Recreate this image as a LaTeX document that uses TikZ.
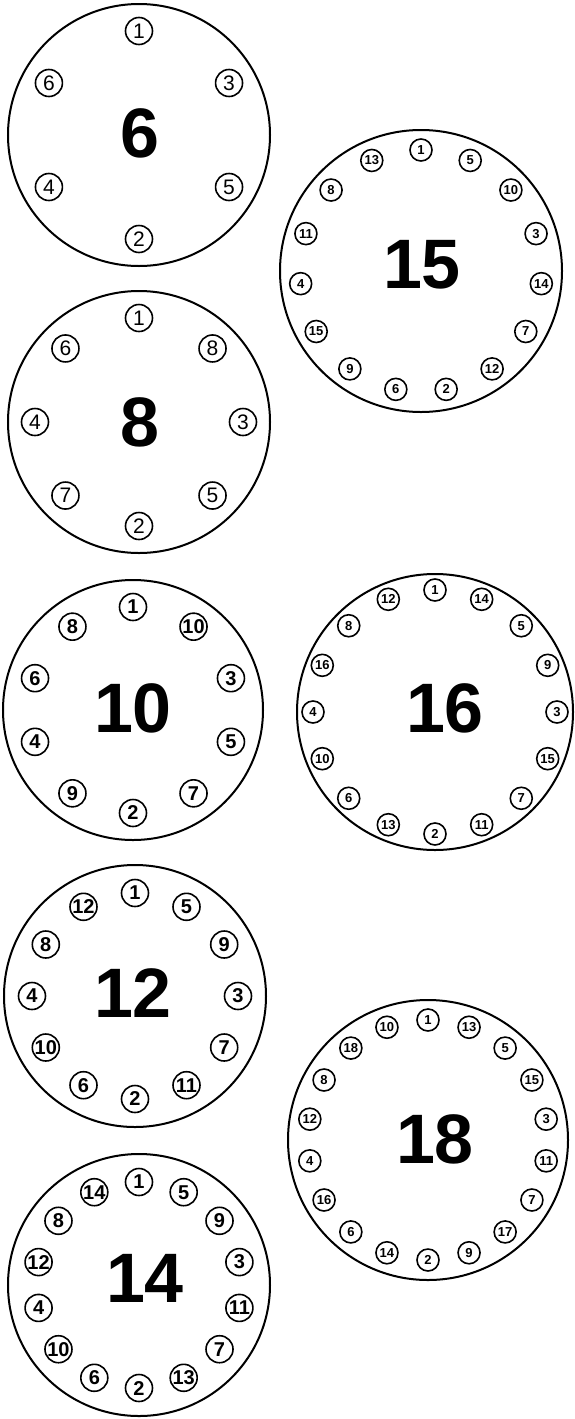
\documentclass[tikz,border=0pt]{standalone}
\usepackage{fontspec}
\setmainfont{Liberation Sans}
\usetikzlibrary{calc}
\newcommand{\drawdial}[9]{%
  \node[dial,minimum size=#4pt] (d#1) at (#2,#3) {};
  \node[bignum] (t#1) at (#8,#9) {#1};
  \foreach \lab [count=\i from 0] in {#7}
    \node[#6] (d#1-\lab) at ($(d#1.center)+(-90+\i*360/#1:#5)$) {\lab};
}
\begin{document}
\begin{tikzpicture}[x=0.5pt,y=-0.5pt,
  dial/.style={circle,draw,line width=1pt,inner sep=0pt},
  bignum/.style={inner sep=0pt,font=\fontsize{35}{35}\selectfont\bfseries},
  pinA/.style={circle,draw,line width=0.8pt,inner sep=0pt,minimum size=13.5pt,font=\fontsize{10.5}{10.5}\selectfont},
  pinB/.style={pinA,font=\fontsize{10}{10}\selectfont\bfseries},
  pinC/.style={circle,draw,line width=0.8pt,inner sep=0pt,minimum size=11pt,font=\fontsize{6.5}{6.5}\selectfont\bfseries}]
\useasboundingbox (0,0) rectangle (574,1419);
\drawdial{6}{139}{135}{131}{104}{pinA}{1,3,5,2,4,6}{140}{133}
\drawdial{8}{139}{422}{131}{104}{pinA}{1,8,3,5,2,7,4,6}{140}{422}
\drawdial{10}{133}{710}{130}{103}{pinB}{1,10,3,5,7,2,9,4,6,8}{133}{708}
\drawdial{12}{135}{996}{131}{103}{pinB}{1,5,9,3,7,11,2,6,10,4,8,12}{133}{993}
\drawdial{14}{139}{1285}{131}{103}{pinB}{1,5,9,3,11,7,13,2,6,10,4,12,8,14}{145}{1278}
\drawdial{15}{421}{271}{141}{121}{pinC}{1,5,10,3,14,7,12,2,6,9,15,4,11,8,13}{422}{265}
\drawdial{16}{435}{712}{138}{122}{pinC}{1,14,5,9,3,15,7,11,2,13,6,10,4,16,8,12}{445}{708}
\drawdial{18}{428}{1140}{140}{120}{pinC}{1,13,5,15,3,11,7,17,9,2,14,6,16,4,12,8,18,10}{435}{1139}
\end{tikzpicture}
\end{document}
